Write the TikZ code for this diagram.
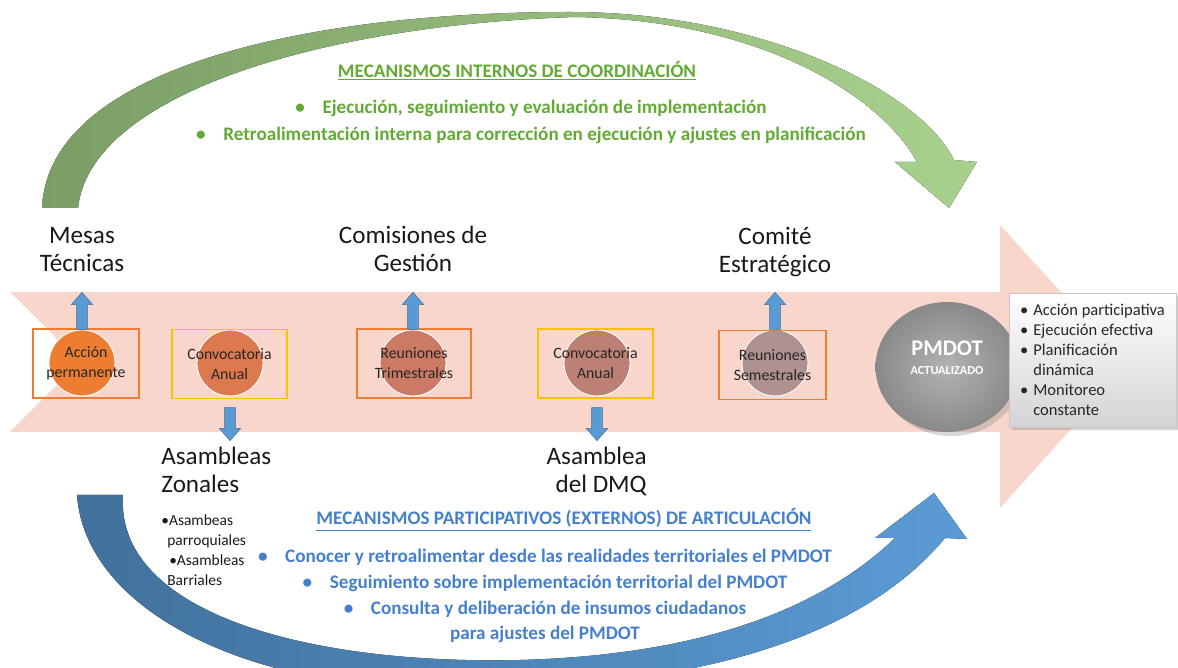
\documentclass[tikz,border=0pt]{standalone}
\usepackage{fontspec}
\setmainfont{Carlito}
\usepackage{tikz}
\usetikzlibrary{arrows.meta,positioning,shapes.arrows,shapes.geometric,shadows}
\definecolor{PMBand}{RGB}{248,214,204}
\definecolor{PMBlue}{HTML}{5B9BD5}
\definecolor{PMBlueDark}{HTML}{41719C}
\definecolor{PMGreenDark}{RGB}{122,158,101}
\definecolor{PMGreenLight}{RGB}{169,209,142}
\definecolor{PMGreenText}{RGB}{98,170,52}
\definecolor{PMBlueText}{RGB}{68,128,204}
\definecolor{PMOrange}{HTML}{ED7D31}
\definecolor{PMYellow}{HTML}{FFC000}
\definecolor{PMStageA}{HTML}{ED7D31}
\definecolor{PMStageB}{RGB}{221,121,78}
\definecolor{PMStageC}{RGB}{204,122,100}
\definecolor{PMStageD}{RGB}{188,128,116}
\definecolor{PMStageE}{RGB}{175,145,143}
\newcommand{\pmBullet}{\textbullet\hspace{10pt}}
\newcommand{\pmItem}{\makebox[0.8em][l]{\textbullet}}
\newcommand{\pmHang}{\makebox[0.8em]{}}
\tikzset{
  pmStage/.style={circle, fill=#1, draw=white, line width=0.5pt,
    minimum size=1.32cm, inner sep=0pt},
  pmFrame/.style={rectangle, draw=#1, line width=0.7pt, minimum height=1.38cm,
    align=center, inner sep=1pt, text=black!85,
    font=\fontsize{9}{11.3}\selectfont},
  pmUp/.style={single arrow, shape border rotate=90, fill=PMBlue,
    draw=PMBlueDark, line width=0.3pt, minimum height=0.74cm,
    minimum width=0.42cm, single arrow head extend=0.11cm,
    single arrow tip angle=82, inner sep=0pt,
    text width=0.2cm, text height=0.2cm, text depth=0pt},
  pmDown/.style={pmUp, shape border rotate=270, minimum height=0.66cm},
  pmLabel/.style={align=center, inner sep=0pt, text=black!90,
    font=\fontsize{14.3}{15.9}\selectfont},
  pmGreen/.style={text=PMGreenText, align=center, inner sep=0pt,
    font=\bfseries\fontsize{10.9}{15.3}\selectfont},
  pmBlueTxt/.style={text=PMBlueText, align=center, inner sep=0pt,
    font=\bfseries\fontsize{10.9}{14.7}\selectfont},
  pmNote/.style={rectangle, top color=white, bottom color=black!17,
    draw=black!22, line width=0.4pt, minimum width=3.34cm,
    minimum height=2.68cm, align=left, inner sep=2pt, text=black!85,
    font=\fontsize{9.4}{11.4}\selectfont,
    drop shadow={opacity=0.35, shadow xshift=0.06cm, shadow yshift=-0.06cm}}
}
\begin{document}
\begin{tikzpicture}[x=0.02cm, y=-0.02cm]
  \useasboundingbox (0,0) rectangle (1178,668);
  \clip (0,0) rectangle (1178,668);

  % band and the two loops
  \fill[PMBand] (10,292) -- (1000,292) -- (1000,225) -- (1128,366) -- (1000,508)
    -- (1000,432) -- (10,432) -- (80,362) -- cycle;
  \fill[left color=PMGreenDark, right color=PMGreenLight]
    (42,208) .. controls (48,70) and (300,12) .. (570,12)
    .. controls (760,12) and (920,90) .. (954,160) -- (977,162) -- (949,208)
    -- (895,162) -- (917,162) .. controls (880,95) and (760,20) .. (575,17)
    .. controls (320,25) and (90,95) .. (78,208) -- cycle;

  % stages
  \node[pmStage=PMStageA] (accion) at (82,363) {};
  \node[pmStage=PMStageB] (zonal) at (230,363) {};
  \node[pmStage=PMStageC] (trim) at (413,363) {};
  \node[pmStage=PMStageD] (dmq) at (597,363) {};
  \node[pmStage=PMStageE] (sem) at (775,363) {};
  \node[pmFrame=PMOrange, minimum width=2.12cm] (accionBox) at (86,363.5) {Acción\\permanente};
  \node[pmFrame=PMYellow, minimum width=2.30cm] (zonalBox) at (229.5,364) {Convocatoria\\Anual};
  \node[pmFrame=PMOrange, minimum width=2.28cm] (trimBox) at (414,363.5) {Reuniones\\Trimestrales};
  \node[pmFrame=PMYellow, minimum width=2.30cm] (dmqBox) at (595.5,363.5) {Convocatoria\\Anual};
  \node[pmFrame=PMOrange, minimum width=2.14cm] (semBox) at (772.5,365) {Reuniones\\Semestrales};

  \node[pmUp, above=0pt of accion] (upMesas) {};
  \node[pmUp, above=0pt of trim] (upComision) {};
  \node[pmUp, above=0pt of sem] (upComite) {};
  \node[pmDown, below=0.22cm of zonal] (downZonal) {};
  \node[pmDown, below=0.22cm of dmq] (downDmq) {};

  \node[pmLabel, above=0.4cm of upMesas] (mesas) {Mesas\\Técnicas};
  \node[pmLabel, above=0.4cm of upComision] (comision) {Comisiones de\\Gestión};
  \node[pmLabel, above=0.3cm of upComite] (comite) {Comité\\Estratégico};
  \node[pmLabel, align=left, anchor=north west] (zonales) at (161,447) {Asambleas\\Zonales};
  \node[pmLabel, align=right, anchor=north east] (asamblea) at (647,447) {Asamblea\\del DMQ};
  \node[align=left, anchor=north west, inner sep=0pt, text=black!90,
    font=\fontsize{8.8}{11.5}\selectfont] (barrios) at (161,514)
    {\textbullet Asambeas\\\hspace*{3.4pt}parroquiales\\\hspace*{4.5pt}\textbullet Asambleas\\\hspace*{3.4pt}Barriales};

  % result
  \node[ellipse, minimum width=2.86cm, minimum height=2.6cm, inner color=black!30,
    outer color=black!46, drop shadow={opacity=0.3}] (pmdot) at (947,367) {};
  \node[text=white, align=center, inner sep=0pt, font=\bfseries\fontsize{12.7}{11}\selectfont]
    (pmdotText) at ([yshift=0.18cm]pmdot.center) {PMDOT\\{\fontsize{7}{11}\selectfont ACTUALIZADO}};
  \node[pmNote] (notes) at (1092.5,360)
    {\pmItem Acción participativa\\\pmItem Ejecución efectiva\\\pmItem Planificación\\\pmHang dinámica\\\pmItem Monitoreo\\\pmHang constante};

  % mechanisms
  \node[pmGreen] (internoTitle) at (517,71) {\underline{MECANISMOS INTERNOS DE COORDINACIÓN}};
  \node[pmGreen] (internoList) at (531,121.5)
    {\pmBullet Ejecución, seguimiento y evaluación de implementación\\
     \pmBullet Retroalimentación interna para corrección en ejecución y ajustes en planificación};
  \node[pmBlueTxt] (externoTitle) at (564,520) {\underline{MECANISMOS PARTICIPATIVOS (EXTERNOS) DE ARTICULACIÓN}};
  \node[pmBlueTxt] (externoList) at (545,596)
    {\pmBullet Conocer y retroalimentar desde las realidades territoriales el PMDOT\\
     \pmBullet Seguimiento sobre implementación territorial del PMDOT\\
     \pmBullet Consulta y deliberación de insumos ciudadanos\\
     para ajustes del PMDOT};

  \fill[left color=PMBlueDark, right color=PMBlue]
    (77,495) .. controls (85,610) and (250,700) .. (500,690)
    .. controls (700,682) and (860,640) .. (945,538) -- (967,539) -- (934,493)
    -- (875,538) -- (895,538) .. controls (820,610) and (700,655) .. (520,660)
    .. controls (300,665) and (115,610) .. (123,495) -- cycle;
\end{tikzpicture}
\end{document}
